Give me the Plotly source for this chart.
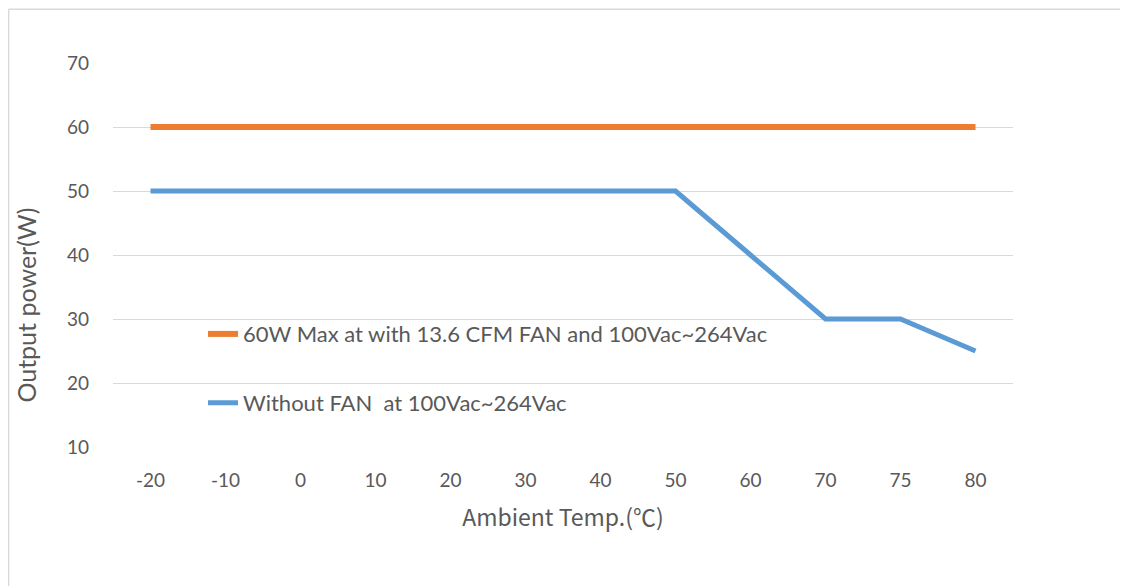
import plotly.graph_objects as go

temps = ["-20", "-10", "0", "10", "20", "30", "40", "50", "60", "70", "75", "80"]
fan_power = [60, 60, 60, 60, 60, 60, 60, 60, 60, 60, 60, 60]
nofan_power = [50, 50, 50, 50, 50, 50, 50, 50, 40, 30, 30, 25]
y_ticks = [10, 20, 30, 40, 50, 60, 70]

font = "Lato, 'Noto Sans CJK SC', sans-serif"
grey = "#595959"

fig = go.Figure()
fig.add_trace(go.Scatter(
    x=temps, y=fan_power, mode="lines",
    name="60W Max at with 13.6 CFM FAN and 100Vac~264Vac",
    line=dict(color="#ED7D31", width=6),
    legend="legend",
))
fig.add_trace(go.Scatter(
    x=temps, y=nofan_power, mode="lines",
    name="Without FAN  at 100Vac~264Vac",
    line=dict(color="#5B9BD5", width=5),
    legend="legend2",
))

legend_style = dict(
    bgcolor="rgba(0,0,0,0)",
    font=dict(family=font, size=22, color=grey),
    xanchor="left", yanchor="middle",
    itemwidth=30,
)

# page adds an 8px body margin, so margins are reduced by 8 to land the plot area
fig.update_layout(
    width=1128, height=586,
    margin=dict(l=105, r=123, t=55, b=147, autoexpand=False),
    paper_bgcolor="white", plot_bgcolor="white",
    font=dict(family=font, color=grey),
    showlegend=True,
    legend=dict(x=0.1, y=0.294, **legend_style),
    legend2=dict(x=0.1, y=0.115, **legend_style),
    xaxis=dict(
        type="category", range=[-0.5, 11.5], automargin=False,
        showgrid=False, showline=False, zeroline=False,
        ticks="", tickfont=dict(size=19, color=grey),
        ticklabelstandoff=20,
        title=dict(
            text="Ambient Temp.(℃)",
            font=dict(size=23, color=grey, family="'Noto Sans CJK SC', sans-serif"),
            standoff=19),
    ),
    yaxis=dict(
        range=[10, 70], tickvals=y_ticks, automargin=False,
        showgrid=True, gridcolor="#d9d9d9", gridwidth=1,
        showline=False, zeroline=False, ticks="",
        tickfont=dict(size=19, color=grey),
        ticklabelstandoff=23,
    ),
    annotations=[
        dict(text="Output power(W)", textangle=-90, showarrow=False,
             xref="paper", yref="paper", x=-0.097, y=0.37,
             xanchor="center", yanchor="middle",
             font=dict(size=25, color=grey, family=font)),
    ],
    shapes=[
        dict(type="line", xref="paper", yref="paper",
             x0=-0.116, x1=1.2, y0=1.14, y1=1.14,
             line=dict(color="#d9d9d9", width=1.5)),
        dict(type="line", xref="paper", yref="paper",
             x0=-0.116, x1=-0.116, y0=-0.5, y1=1.14,
             line=dict(color="#d9d9d9", width=1.5)),
    ],
)

fig.write_html("out.html")
